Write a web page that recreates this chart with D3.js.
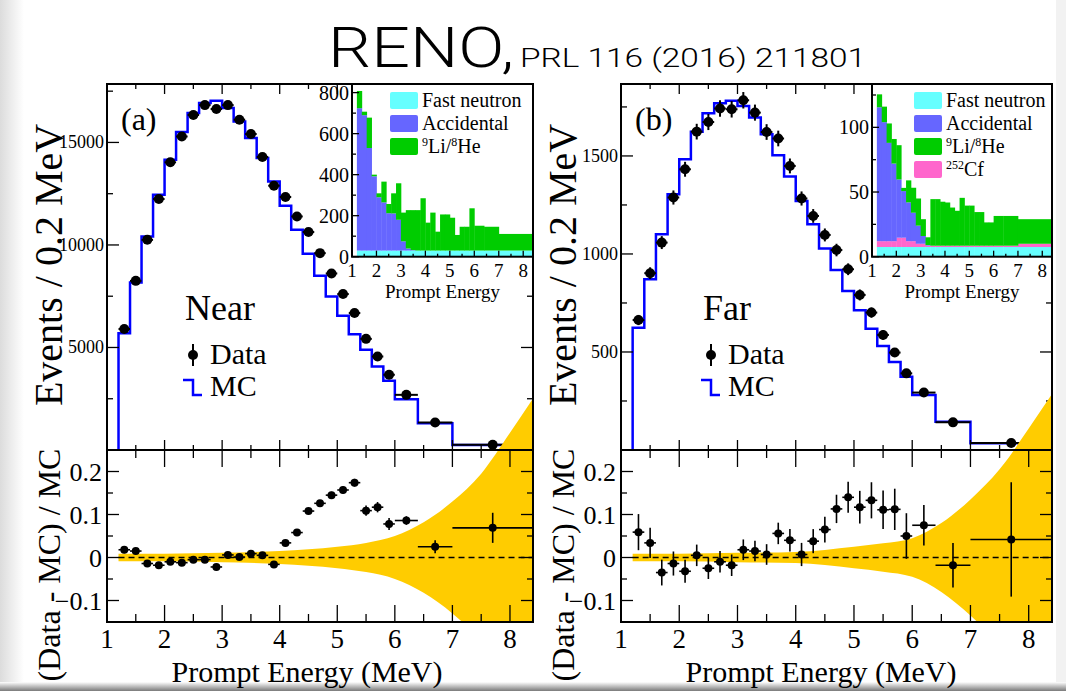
<!DOCTYPE html>
<html>
<head>
<meta charset="utf-8">
<script src="https://cdn.jsdelivr.net/npm/d3@7"></script>
<style>
body { margin: 0; background: #fff; }
text { font-family: "Liberation Serif", "Times New Roman", serif; fill: #000; }
.title { font-family: Roboto, "Liberation Sans", sans-serif; font-weight: 300; }
</style>
</head>
<body>
<svg id="chart" width="1066" height="691"></svg>
<script>
// energy bins (MeV)
var binLo  = [1.2,1.4,1.6,1.8,2.0,2.2,2.4,2.6,2.8,3.0,3.2,3.4,3.6,3.8,4.0,4.2,4.4,4.6,4.8,5.0,5.2,5.4,5.6,5.8,6.0,6.4,7.0];
var binHi  = [1.4,1.6,1.8,2.0,2.2,2.4,2.6,2.8,3.0,3.2,3.4,3.6,3.8,4.0,4.2,4.4,4.6,4.8,5.0,5.2,5.4,5.6,5.8,6.0,6.4,7.0,8.4];
var binMid = [1.3,1.5,1.7,1.9,2.1,2.3,2.5,2.7,2.9,3.1,3.3,3.5,3.7,3.9,4.1,4.3,4.5,4.7,4.9,5.1,5.3,5.5,5.7,5.9,6.2,6.7,7.7];

// (a) Near
var nearData = [5900,8250,10250,12240,14030,15290,16340,16820,16630,16820,16110,15410,14290,12890,12340,11390,10630,9600,8610,7605,6680,5420,4560,3670,2690,1340,254];
var nearMC   = [5700,8170,10415,12450,14160,15510,16430,16920,17030,16680,16020,15215,14240,13100,11910,10740,9570,8500,7490,6550,5650,4890,4075,3380,2480,1310,240];
var nearErr  = [80,95,105,115,120,125,130,130,130,130,130,125,120,115,110,110,105,100,95,90,85,75,70,62,52,37,16];
var nearRatio    = [0.018,0.015,-0.014,-0.018,-0.010,-0.012,-0.005,-0.005,-0.022,0.006,0.001,0.009,0.005,-0.016,0.034,0.058,0.108,0.126,0.145,0.157,0.174,0.109,0.117,0.078,0.086,0.025,0.069];
var nearRatioErr = [0.008,0.007,0.006,0.006,0.005,0.005,0.005,0.005,0.005,0.005,0.005,0.005,0.005,0.006,0.006,0.006,0.007,0.007,0.008,0.008,0.009,0.012,0.012,0.014,0.010,0.015,0.035];
var bandE    = [1.2,2.0,3.0,4.0,5.0,5.5,6.0,6.5,7.0,7.5,8.0,8.4];
var nearBand = [0.009,0.009,0.011,0.015,0.025,0.034,0.050,0.082,0.130,0.195,0.290,0.370];
// near background inset
var nearFast = [30,30,30,30,30,30,30,30,30,30,30,30,30,30,30,30,30,30,30,30,30,30,30,30,30,30,30];
var nearAcc  = [694,660,500,362,260,235,182,181,150,45,10,2,0,0,0,0,0,0,0,0,0,0,0,0,0,0,0];
var nearLi   = [84,17,148,8,19,101,45,98,178,140,187,195,197,255,136,185,92,176,176,160,76,116,116,206,121,116,81];

// (b) Far
var farData = [663,902,1058,1288,1432,1624,1673,1742,1738,1784,1721,1622,1589,1449,1283,1194,1097,1020,922,791,701,587,497,391,293,141,36];
var farMC   = [624,871,1100,1304,1483,1623,1718,1769,1781,1755,1696,1611,1504,1395,1270,1152,1028,918,811,713,619,531,449,374,281,144,34.5];
var farErr  = [26,30,33,36,38,40,41,42,42,42,41,40,40,38,36,35,33,32,30,28,26,24,22,20,12,8,3];
var farRatio    = [0.059,0.034,-0.035,-0.014,-0.032,0.005,-0.025,-0.010,-0.018,0.018,0.015,0.007,0.056,0.040,0.007,0.038,0.065,0.113,0.140,0.117,0.133,0.111,0.112,0.050,0.075,-0.018,0.042];
var farRatioErr = [0.042,0.035,0.030,0.028,0.027,0.025,0.025,0.025,0.025,0.024,0.024,0.024,0.025,0.026,0.027,0.028,0.030,0.033,0.036,0.038,0.042,0.045,0.048,0.053,0.047,0.052,0.133];
var farBand = [0.009,0.009,0.011,0.013,0.025,0.033,0.045,0.080,0.135,0.205,0.300,0.380];
// far background inset
var farFast = [7.5,7.5,7.5,7.5,7.5,7.5,7.5,7.5,7.5,7.5,7.5,7.5,7.5,7.5,7.5,7.5,7.5,7.5,7.5,7.5,7.5,7.5,7.5,7.5,7.5,7.5,7.5];
var farCf   = [4.5,4.5,4.5,4.5,7.2,7.2,4.5,4.5,2.5,2.5,1,1,1,1,1,1,1,1,1,1,1,1,1,1,1,1,2.5];
var farAcc  = [103.5,92,76,60,45,36,30,22,14,6,0.5,0,0,0,0,0,0,0,0,0,0,0,0,0,0,0,0];
var farLi   = [10,12,15,19,26.5,2.5,17,19.3,21,13,6,36,36,34,33.4,29.5,27,37,31,31,26,26,18,18,23,23,19];

var xTickMajor = [1,2,3,4,5,6,7,8];
var xTickMinor = [1.5,2.5,3.5,4.5,5.5,6.5,7.5];
var ratioMajor = [-0.1,0,0.1,0.2];
var ratioMinor = [-0.05,0.05,0.15];

var colFast = "#66ffff", colAcc = "#6666ff", colLi = "#00cc00", colCf = "#ff66cc";
var colBand = "#ffcc00", colMC = "#0000ff";

var svg = d3.select("#chart");

// slide edges
var defs = svg.append("defs");
var lg = defs.append("linearGradient").attr("id", "leftShade");
lg.append("stop").attr("offset", "0%").attr("stop-color", "#dcdcdc");
lg.append("stop").attr("offset", "100%").attr("stop-color", "#fff");
var bg = defs.append("linearGradient").attr("id", "bottomShade").attr("x1", 0).attr("x2", 0).attr("y1", 0).attr("y2", 1);
bg.append("stop").attr("offset", "0%").attr("stop-color", "#fff");
bg.append("stop").attr("offset", "100%").attr("stop-color", "#7a7a7a");
svg.append("rect").attr("x", 0).attr("y", 0).attr("width", 24).attr("height", 691).attr("fill", "url(#leftShade)");
svg.append("rect").attr("x", 1056).attr("y", 0).attr("width", 10).attr("height", 691).attr("fill", "#f2f2f2");
svg.append("rect").attr("x", 0).attr("y", 682).attr("width", 1066).attr("height", 9).attr("fill", "url(#bottomShade)");

// title
var title = svg.append("text").attr("class", "title").attr("y", 67);
title.append("tspan").attr("x", 328).attr("font-size", 56)
    .attr("textLength", 186).attr("lengthAdjust", "spacingAndGlyphs").text("RENO,");
title.append("tspan").attr("x", 520).attr("font-size", 25)
    .attr("textLength", 346).attr("lengthAdjust", "spacingAndGlyphs").text("PRL 116 (2016) 211801");

function ticks(g, scale, vals, orient, len, pos) {
    // orient: "left","right","top","bottom" edge; ticks point inward
    g.selectAll(null).data(vals).enter().append("line")
        .attr("x1", function(d) { return orient == "left" || orient == "right" ? pos : scale(d); })
        .attr("x2", function(d) { return orient == "left" ? pos + len : orient == "right" ? pos - len : scale(d); })
        .attr("y1", function(d) { return orient == "top" || orient == "bottom" ? pos : scale(d); })
        .attr("y2", function(d) { return orient == "top" ? pos + len : orient == "bottom" ? pos - len : scale(d); })
        .attr("stroke", "#000").attr("stroke-width", 1.3);
}

function drawPanel(p) {
    var x = d3.scaleLinear().domain([1, 8.4]).range([p.x0, p.x1]);
    var y = d3.scaleLinear().domain([0, p.yMax]).range([450, 84]);
    var yr = d3.scaleLinear().domain([-0.15, 0.25]).range([622, 450]);
    var g = svg.append("g");

    var clipId = "clip" + p.id;
    defs.append("clipPath").attr("id", clipId).append("rect")
        .attr("x", p.x0).attr("y", 84).attr("width", p.x1 - p.x0).attr("height", 538);

    // MC histogram
    var steps = [{e: binLo[0], v: 0}];
    p.mc.forEach(function(v, i) { steps.push({e: binLo[i], v: v}); });
    steps.push({e: binHi[binHi.length - 1], v: p.mc[p.mc.length - 1]});
    var stepLine = d3.line().x(function(d) { return x(d.e); }).y(function(d) { return y(d.v); }).curve(d3.curveStepAfter);
    g.append("path").datum(steps).attr("d", stepLine)
        .attr("fill", "none").attr("stroke", colMC).attr("stroke-width", 2.5)
        .attr("clip-path", "url(#" + clipId + ")");

    // data points
    var pts = g.append("g").selectAll("g").data(p.data).enter().append("g");
    pts.append("line")
        .attr("x1", function(d, i) { return x(binLo[i]); }).attr("x2", function(d, i) { return x(binHi[i]); })
        .attr("y1", function(d) { return y(d); }).attr("y2", function(d) { return y(d); })
        .attr("stroke", "#000").attr("stroke-width", 2);
    pts.append("line")
        .attr("x1", function(d, i) { return x(binMid[i]); }).attr("x2", function(d, i) { return x(binMid[i]); })
        .attr("y1", function(d, i) { return y(d - p.err[i]); }).attr("y2", function(d, i) { return y(d + p.err[i]); })
        .attr("stroke", "#000").attr("stroke-width", 2);
    pts.append("circle")
        .attr("cx", function(d, i) { return x(binMid[i]); }).attr("cy", function(d) { return y(d); })
        .attr("r", 5).attr("fill", "#000");

    // main axes
    ticks(g, y, p.yMajor, "left", 12, p.x0);
    ticks(g, y, p.yMinor, "left", 6, p.x0);
    ticks(g, y, p.yMajor, "right", 12, p.x1);
    ticks(g, y, p.yMinor, "right", 6, p.x1);
    ticks(g, x, xTickMajor.slice(1), "bottom", 10, 450);
    ticks(g, x, xTickMinor, "bottom", 5, 450);
    ticks(g, x, xTickMajor.slice(1), "top", 10, 84);
    ticks(g, x, xTickMinor, "top", 5, 84);
    g.selectAll(null).data(p.yMajor).enter().append("text")
        .attr("x", p.x0 - 3).attr("y", function(d) { return y(d) + 6; })
        .attr("text-anchor", "end").attr("font-size", 18).text(function(d) { return d; });

    g.append("text").attr("x", p.x0 + 14).attr("y", 130).attr("font-size", 32).text(p.tag);
    g.append("text").attr("x", p.legX).attr("y", 320).attr("font-size", 36).text(p.name);
    g.append("line").attr("x1", p.legX + 8).attr("x2", p.legX + 8).attr("y1", 344).attr("y2", 366)
        .attr("stroke", "#000").attr("stroke-width", 2);
    g.append("circle").attr("cx", p.legX + 8).attr("cy", 355).attr("r", 5).attr("fill", "#000");
    g.append("text").attr("x", p.legX + 25).attr("y", 364).attr("font-size", 30).text("Data");
    g.append("path").attr("d", "M" + (p.legX - 2) + ",380H" + (p.legX + 8) + "V395H" + (p.legX + 17))
        .attr("fill", "none").attr("stroke", colMC).attr("stroke-width", 2.5);
    g.append("text").attr("x", p.legX + 25).attr("y", 396).attr("font-size", 30).text("MC");

    // ratio panel
    var area = d3.area().x(function(d) { return x(d.e); })
        .y0(function(d) { return yr(-d.w); }).y1(function(d) { return yr(d.w); })
        .curve(d3.curveMonotoneX);
    g.append("path").datum(bandE.map(function(e, i) { return {e: e, w: p.band[i]}; }))
        .attr("d", area).attr("fill", colBand).attr("clip-path", "url(#" + clipId + ")");
    g.append("line").attr("x1", x(1.2)).attr("x2", p.x1).attr("y1", yr(0)).attr("y2", yr(0))
        .attr("stroke", "#000").attr("stroke-width", 1.5).attr("stroke-dasharray", "6,4");
    var rp = g.append("g").selectAll("g").data(p.ratio).enter().append("g");
    rp.append("line")
        .attr("x1", function(d, i) { return x(binLo[i]); }).attr("x2", function(d, i) { return x(binHi[i]); })
        .attr("y1", function(d) { return yr(d); }).attr("y2", function(d) { return yr(d); })
        .attr("stroke", "#000").attr("stroke-width", 1.6);
    rp.append("line")
        .attr("x1", function(d, i) { return x(binMid[i]); }).attr("x2", function(d, i) { return x(binMid[i]); })
        .attr("y1", function(d, i) { return yr(d - p.ratioErr[i]); }).attr("y2", function(d, i) { return yr(d + p.ratioErr[i]); })
        .attr("stroke", "#000").attr("stroke-width", 1.6);
    rp.append("circle")
        .attr("cx", function(d, i) { return x(binMid[i]); }).attr("cy", function(d) { return yr(d); })
        .attr("r", 4).attr("fill", "#000");

    ticks(g, yr, ratioMajor, "left", 12, p.x0);
    ticks(g, yr, ratioMinor, "left", 6, p.x0);
    ticks(g, yr, ratioMajor, "right", 12, p.x1);
    ticks(g, yr, ratioMinor, "right", 6, p.x1);
    ticks(g, x, xTickMajor.slice(1), "bottom", 17, 622);
    ticks(g, x, xTickMinor, "bottom", 8, 622);
    ticks(g, x, xTickMajor.slice(1), "top", 17, 450);
    ticks(g, x, xTickMinor, "top", 8, 450);
    g.selectAll(null).data(ratioMajor).enter().append("text")
        .attr("x", p.x0 - 5).attr("y", function(d) { return yr(d) + 9; })
        .attr("text-anchor", "end").attr("font-size", 26)
        .text(function(d) { return d < 0 ? "\u2212" + Math.abs(d) : d; });
    g.selectAll(null).data(xTickMajor).enter().append("text")
        .attr("x", function(d) { return x(d); }).attr("y", 648)
        .attr("text-anchor", "middle").attr("font-size", 27).text(function(d) { return d; });

    g.append("text").attr("x", p.x0 + 200).attr("y", 682)
        .attr("text-anchor", "middle").attr("font-size", 30).text("Prompt Energy (MeV)");
    g.append("text").attr("transform", "translate(" + (p.x0 - 45) + ",265) rotate(-90)")
        .attr("text-anchor", "middle").attr("font-size", 40).text("Events / 0.2 MeV");
    g.append("text").attr("transform", "translate(" + (p.x0 - 47) + ",565) rotate(-90)")
        .attr("text-anchor", "middle").attr("font-size", 32).text("(Data - MC) / MC");

    // frames
    g.append("rect").attr("x", p.x0).attr("y", 84).attr("width", p.x1 - p.x0).attr("height", 366)
        .attr("fill", "none").attr("stroke", "#000").attr("stroke-width", 2);
    g.append("rect").attr("x", p.x0).attr("y", 450).attr("width", p.x1 - p.x0).attr("height", 172)
        .attr("fill", "none").attr("stroke", "#000").attr("stroke-width", 2);

    drawInset(p.inset);
}

function drawInset(s) {
    var x = d3.scaleLinear().domain([1, 8.4]).range([s.x0, s.x1]);
    var y = d3.scaleLinear().domain([0, s.yMax]).range([256.7, 84]);
    var g = svg.append("g");
    g.append("rect").attr("x", s.x0).attr("y", 84).attr("width", s.x1 - s.x0).attr("height", 172.7).attr("fill", "#fff");

    var rows = binMid.map(function(m, i) {
        var r = {i: i};
        s.keys.forEach(function(k) { r[k] = s.series[k][i]; });
        return r;
    });
    var stacked = d3.stack().keys(s.keys)(rows);
    g.selectAll(null).data(stacked).enter().append("g")
        .attr("fill", function(d) { return s.colors[d.key]; })
        .selectAll("rect").data(function(d) { return d; }).enter().append("rect")
        .attr("x", function(d) { return x(binLo[d.data.i]); })
        .attr("width", function(d) { return x(binHi[d.data.i]) - x(binLo[d.data.i]) + 0.4; })
        .attr("y", function(d) { return y(d[1]); })
        .attr("height", function(d) { return Math.max(0, y(d[0]) - y(d[1])); });

    ticks(g, y, s.yMajor, "left", 7, s.x0);
    ticks(g, y, s.yMinor, "left", 4, s.x0);
    ticks(g, x, xTickMajor.slice(1), "bottom", 6, 256.7);
    ticks(g, x, xTickMinor, "bottom", 3, 256.7);
    g.append("rect").attr("x", s.x0).attr("y", 84).attr("width", s.x1 - s.x0).attr("height", 172.7)
        .attr("fill", "none").attr("stroke", "#000").attr("stroke-width", 2);

    g.selectAll(null).data(s.yMajor).enter().append("text")
        .attr("x", s.x0 - 3).attr("y", function(d) { return y(d) + 7; })
        .attr("text-anchor", "end").attr("font-size", 20).text(function(d) { return d; });
    g.selectAll(null).data(xTickMajor).enter().append("text")
        .attr("x", function(d) { return x(d); }).attr("y", 277)
        .attr("text-anchor", "middle").attr("font-size", 19).text(function(d) { return d; });
    g.append("text").attr("x", (s.x0 + s.x1) / 2).attr("y", 298)
        .attr("text-anchor", "middle").attr("font-size", 19).text("Prompt Energy");

    // legend
    var leg = g.selectAll(null).data(s.legend).enter().append("g")
        .attr("transform", function(d, i) { return "translate(" + s.legX + "," + (92 + i * 23) + ")"; });
    leg.append("rect").attr("width", 28).attr("height", 17).attr("rx", 2)
        .attr("fill", function(d) { return s.colors[d.key]; });
    leg.append("text").attr("x", 32).attr("y", 15).attr("font-size", 20)
        .each(function(d) {
            var t = d3.select(this);
            d.parts.forEach(function(pt) {
                var ts = t.append("tspan").text(pt[0]);
                if (pt[1]) ts.attr("font-size", 12).attr("baseline-shift", "55%");
            });
        });
}

drawPanel({
    id: "a", x0: 107, x1: 533, yMax: 17850, tag: "(a)", name: "Near", legX: 185,
    yMajor: [5000, 10000, 15000], yMinor: [2500, 7500, 12500, 17500],
    data: nearData, mc: nearMC, err: nearErr, ratio: nearRatio, ratioErr: nearRatioErr, band: nearBand,
    inset: {
        x0: 352, x1: 533, yMax: 842, yMajor: [0, 200, 400, 600, 800], yMinor: [100, 300, 500, 700],
        keys: ["fast", "acc", "li"], series: {fast: nearFast, acc: nearAcc, li: nearLi},
        colors: {fast: colFast, acc: colAcc, li: colLi}, legX: 390,
        legend: [
            {key: "fast", parts: [["Fast neutron"]]},
            {key: "acc", parts: [["Accidental"]]},
            {key: "li", parts: [["9", 1], ["Li/"], ["8", 1], ["He"]]}
        ]
    }
});

drawPanel({
    id: "b", x0: 621, x1: 1052, yMax: 1867, tag: "(b)", name: "Far", legX: 703,
    yMajor: [500, 1000, 1500], yMinor: [250, 750, 1250, 1750],
    data: farData, mc: farMC, err: farErr, ratio: farRatio, ratioErr: farRatioErr, band: farBand,
    inset: {
        x0: 872, x1: 1052, yMax: 133.5, yMajor: [0, 50, 100], yMinor: [25, 75, 125],
        keys: ["fast", "cf", "acc", "li"], series: {fast: farFast, cf: farCf, acc: farAcc, li: farLi},
        colors: {fast: colFast, acc: colAcc, li: colLi, cf: colCf}, legX: 914,
        legend: [
            {key: "fast", parts: [["Fast neutron"]]},
            {key: "acc", parts: [["Accidental"]]},
            {key: "li", parts: [["9", 1], ["Li/"], ["8", 1], ["He"]]},
            {key: "cf", parts: [["252", 1], ["Cf"]]}
        ]
    }
});
</script>
</body>
</html>
